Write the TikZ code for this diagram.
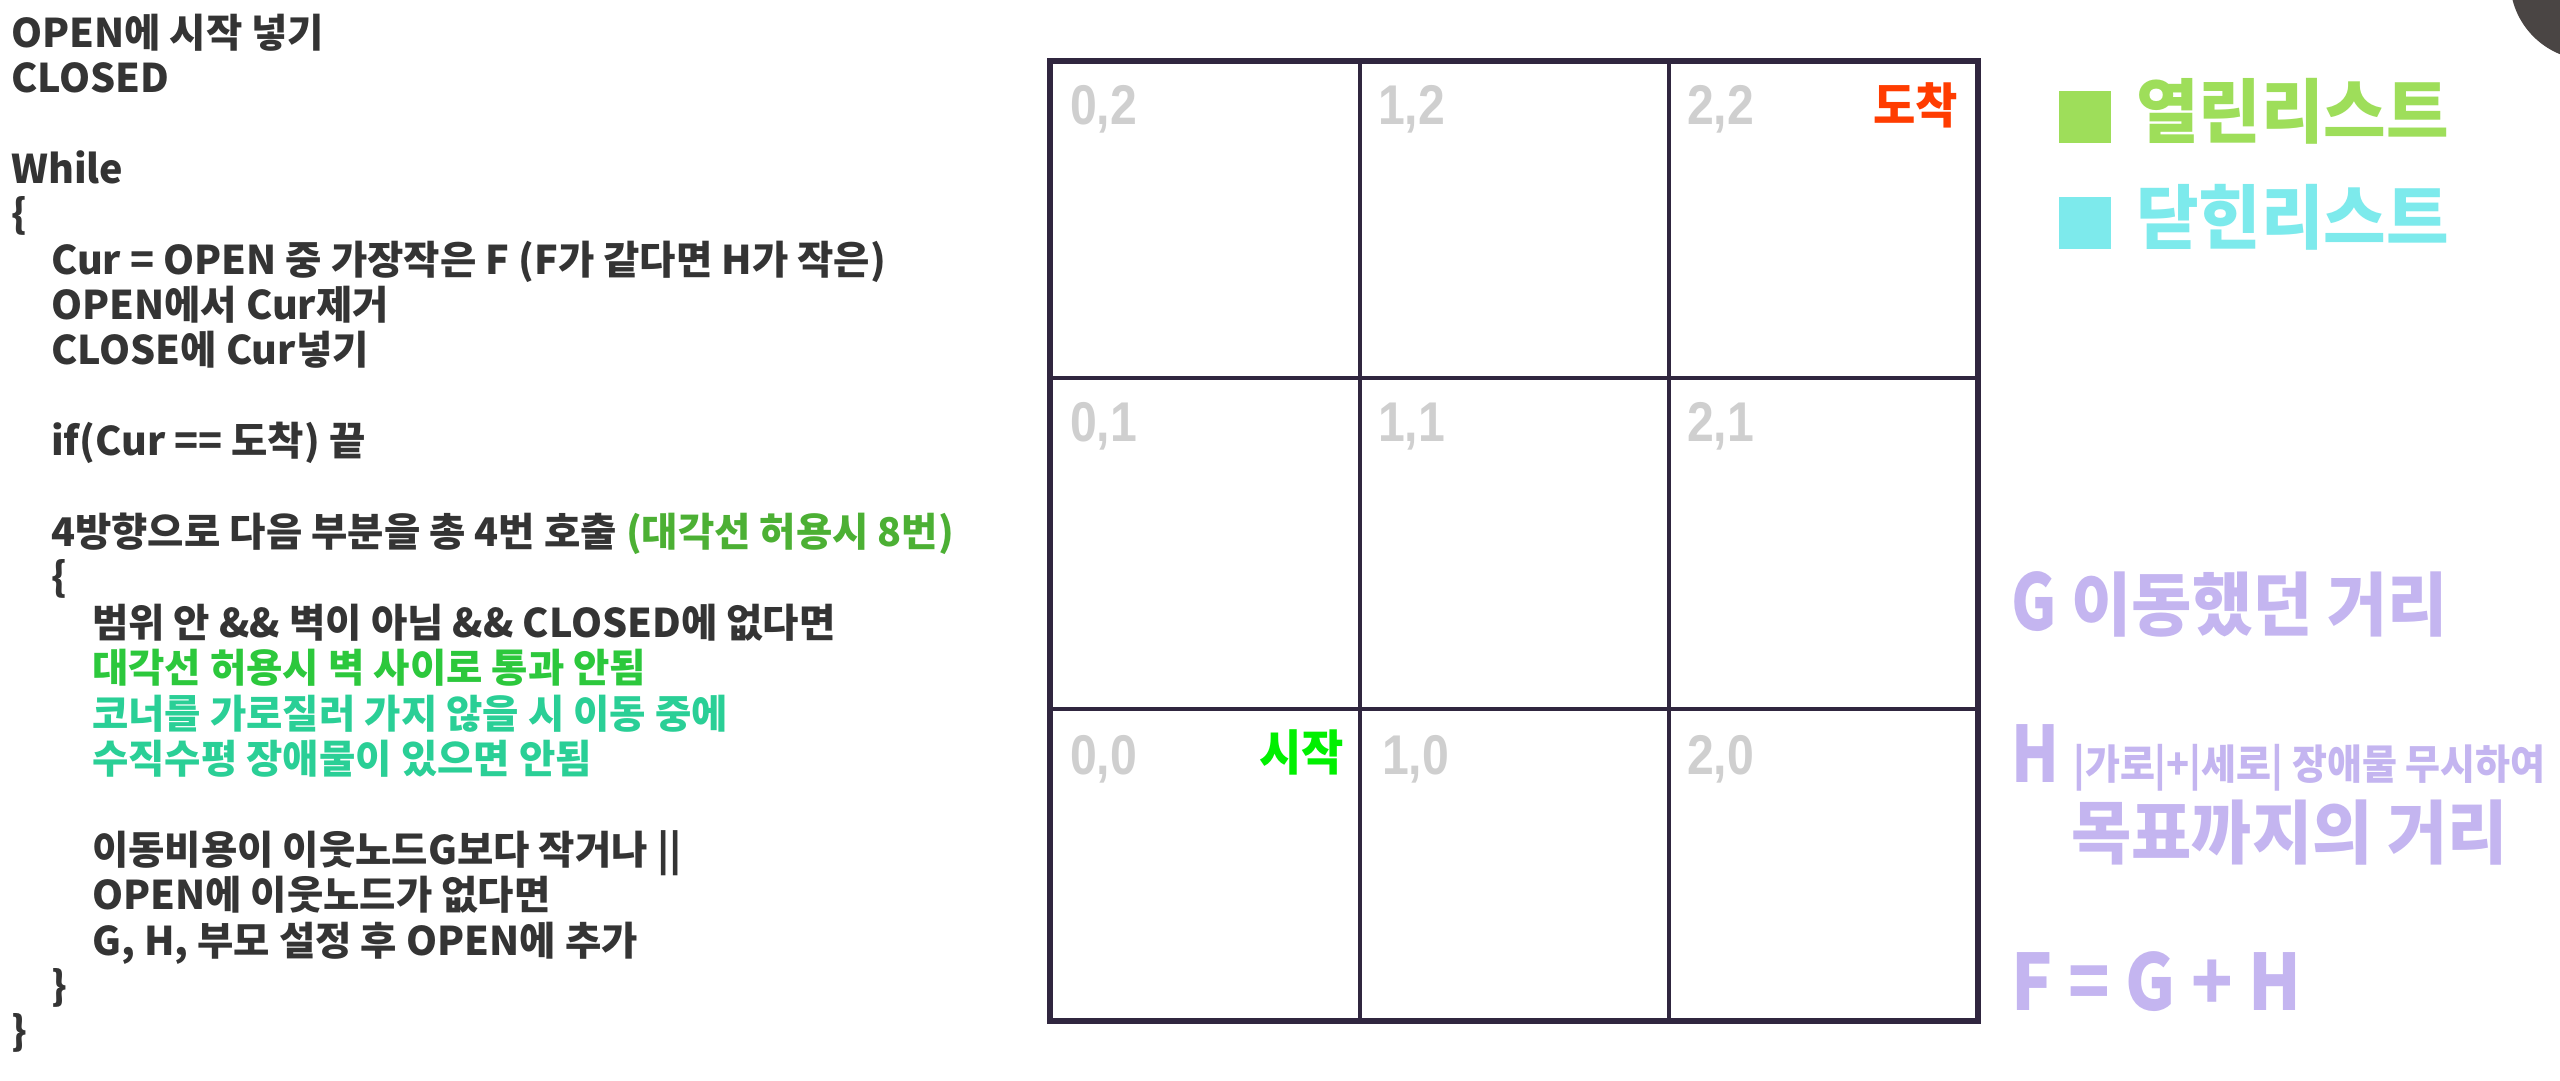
\documentclass[tikz,border=0pt]{standalone}
\usepackage{fontspec}
\usepackage{graphicx}
\setmainfont{Noto Sans CJK KR}
\newfontfamily\kr{Noto Sans CJK KR}
\newfontfamily\lab{Liberation Sans}
\definecolor{txt}{HTML}{343434}
\definecolor{gA}{HTML}{4CB034}
\definecolor{gB}{HTML}{2CC83C}
\definecolor{teal}{HTML}{2ACF96}
\definecolor{gridc}{HTML}{30263F}
\definecolor{lbl}{HTML}{CFCFCF}
\definecolor{goal}{HTML}{FF3C00}
\definecolor{startc}{HTML}{00F000}
\definecolor{openc}{HTML}{9EDE5A}
\definecolor{closec}{HTML}{7DEAEC}
\definecolor{purp}{HTML}{C4B5F0}
\definecolor{blob}{HTML}{4A4544}
\newcommand{\latbig}[2][0.86]{\scalebox{#1}[1.08]{\fontsize{72}{72}\selectfont #2}}
\begin{document}
\begin{tikzpicture}[x=1pt,y=-1pt,
  code/.style={anchor=base west, inner sep=0pt, font=\kr\bfseries\fontsize{39.5}{39.5}\selectfont, text=txt},
  cell/.style={anchor=base west, inner sep=0pt, font=\lab\bfseries\fontsize{56}{56}\selectfont, text=lbl},
  cellmark/.style={anchor=base east, inner sep=0pt, font=\kr\bfseries\fontsize{46}{46}\selectfont},
  big/.style={anchor=base west, inner sep=0pt, font=\kr\bfseries\fontsize{65.5}{65.5}\selectfont, text=purp},
  legend/.style={anchor=base west, inner sep=0pt, font=\kr\bfseries\fontsize{68}{68}\selectfont},
  inner/.style={draw=gridc, line width=4.5pt},
  outer/.style={draw=gridc, line width=6pt}]
\useasboundingbox (0,0) rectangle (2560,1080);
\fill[white] (0,0) rectangle (2560,1080);
% corner blob
\begin{scope}
\clip (0,0) rectangle (2560,1080);
\fill[blob] (2590,-20) circle (80);
\end{scope}
% pseudo code
\node[code] (l1) at (11,47) {OPEN에 시작 넣기};
\node[code] (l2) at (11,92.4) {CLOSED};
\node[code] (l4) at (11,183.2) {While};
\node[code] (l5) at (11,228.6) {\{};
\node[code] (l6) at (51,274) {Cur = OPEN 중 가장작은 F (F가 같다면 H가 작은)};
\node[code] (l7) at (51,319.4) {OPEN에서 Cur제거};
\node[code] (l8) at (51,364.8) {CLOSE에 Cur넣기};
\node[code] (l10) at (51,455.6) {if(Cur == 도착) 끝};
\node[code] (l12) at (51,546.4) {4방향으로 다음 부분을 총 4번 호출 \textcolor{gA}{(대각선 허용시 8번)}};
\node[code] (l13) at (51,591.8) {\{};
\node[code] (l14) at (92,637.2) {범위 안 \&\& 벽이 아님 \&\& CLOSED에 없다면};
\node[code, text=gB] (l15) at (92,682.6) {대각선 허용시 벽 사이로 통과 안됨};
\node[code, text=teal] (l16) at (92,728) {코너를 가로질러 가지 않을 시 이동 중에};
\node[code, text=teal] (l17) at (92,773.4) {수직수평 장애물이 있으면 안됨};
\node[code] (l19) at (92,864.2) {이동비용이 이웃노드G보다 작거나 ||};
\node[code] (l20) at (92,909.6) {OPEN에 이웃노드가 없다면};
\node[code] (l21) at (92,955) {G, H, 부모 설정 후 OPEN에 추가};
\node[code] (l22) at (51,1000.4) {\}};
\node[code] (l23) at (11,1045.8) {\}};
% grid
\draw[inner] (1360,61) -- (1360,1021);
\draw[inner] (1669,61) -- (1669,1021);
\draw[inner] (1050,378) -- (1978,378);
\draw[inner] (1050,709) -- (1978,709);
\draw[outer] (1050,61) rectangle (1978,1021);
% cell labels
\node[cell] (c02) at (1070,124) {\scalebox{0.86}[1]{0,2}};
\node[cell] (c12) at (1378,124) {\scalebox{0.86}[1]{1,2}};
\node[cell] (c22) at (1687,124) {\scalebox{0.86}[1]{2,2}};
\node[cell] (c01) at (1070,441) {\scalebox{0.86}[1]{0,1}};
\node[cell] (c11) at (1378,441) {\scalebox{0.86}[1]{1,1}};
\node[cell] (c21) at (1687,441) {\scalebox{0.86}[1]{2,1}};
\node[cell] (c00) at (1070,774) {\scalebox{0.86}[1]{0,0}};
\node[cell] (c10) at (1382,774) {\scalebox{0.86}[1]{1,0}};
\node[cell] (c20) at (1687,774) {\scalebox{0.86}[1]{2,0}};
\node[cellmark, text=goal] (goal) at (1958,123) {\scalebox{1}[1.05]{도착}};
\node[cellmark, text=startc] (start) at (1344,770) {\scalebox{1}[1.05]{시작}};
% legend
\fill[openc] (2059,91) rectangle (2111,143);
\node[legend, text=openc] (open) at (2136,137) {\scalebox{1}[1.03]{열린리스트}};
\fill[closec] (2059,197) rectangle (2111,249);
\node[legend, text=closec] (close) at (2136,243) {\scalebox{1}[1.03]{닫힌리스트}};
% formulas
\node[big] (g) at (2011,630) {\latbig{G}\ \scalebox{1}[1.06]{이동했던 거리}};
\node[big] (h) at (2011,782) {\latbig{H}};
\node[big, font=\kr\bfseries\fontsize{38}{38}\selectfont] (hdesc) at (2073,779) {\scalebox{1}[1.08]{|가로|+|세로| 장애물 무시하여}};
\node[big] (htarget) at (2071,858) {\scalebox{1}[1.06]{목표까지의 거리}};
\node[big] (f) at (2011,1010) {\latbig[0.95]{F = G + H}};
\end{tikzpicture}
\end{document}
